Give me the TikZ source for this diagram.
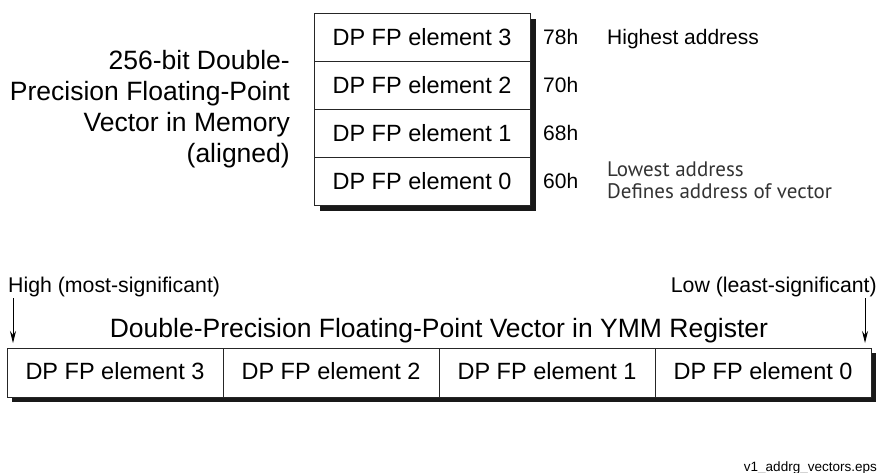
\documentclass[tikz,border=0pt]{standalone}
\usepackage{fontspec}
\setmainfont{Liberation Sans}
\newfontfamily\humfont{PT Sans}
\usetikzlibrary{arrows.meta}
\definecolor{notegray}{HTML}{333333}
\tikzset{
  cellbox/.style={draw=black!85, line width=0.8pt, fill=white, inner sep=0pt,
    minimum width=216pt, font=\fontsize{23.5}{28}\selectfont},
  memcell/.style={cellbox, minimum height=48pt, text height=17pt, text depth=1pt},
  regcell/.style={cellbox, minimum height=49pt, text height=17pt, text depth=4pt},
  addrlbl/.style={anchor=base west, inner sep=0pt, font=\fontsize{21}{25}\selectfont},
  notelbl/.style={anchor=base west, inner sep=0pt, text=notegray, font=\humfont\fontsize{21}{25}\selectfont},
  sidelbl/.style={inner sep=0pt, font=\fontsize{21.3}{25}\selectfont},
  titlelbl/.style={inner sep=0pt, font=\fontsize{26.5}{31}\selectfont},
  endarrow/.style={line width=0.9pt, -{Stealth[length=12pt,width=6pt]}},
  shadowfill/.style={fill=black!90}
}
\begin{document}
\begin{tikzpicture}[x=1pt,y=-1pt]
\useasboundingbox (0,0) rectangle (880,472);
% memory vector
\fill[shadowfill] (320,19) rectangle (536,211);
\node[memcell] (m3) at (422,37) {DP FP element 3};
\node[memcell] (m2) at (422,85) {DP FP element 2};
\node[memcell] (m1) at (422,133) {DP FP element 1};
\node[memcell] (m0) at (422,181) {DP FP element 0};
\node[addrlbl] (a3) at (543,44) {78h};
\node[addrlbl] (a2) at (543,92) {70h};
\node[addrlbl] (a1) at (543,140) {68h};
\node[addrlbl] (a0) at (543,188) {60h};
\node[addrlbl] (hi) at (607,44) {Highest address};
\node[notelbl] (lo1) at (607,176) {Lowest address};
\node[notelbl] (lo2) at (607,198) {Defines address of vector};
\node[titlelbl, anchor=base east, align=right] (memtitle) at (290,162)
  {256-bit Double-\\Precision Floating-Point\\Vector in Memory\\(aligned)};
% register
\fill[shadowfill] (12,353) rectangle (876,402);
\node[regcell] (r3) at (115,372.5) {DP FP element 3};
\node[regcell] (r2) at (331,372.5) {DP FP element 2};
\node[regcell] (r1) at (547,372.5) {DP FP element 1};
\node[regcell] (r0) at (763,372.5) {DP FP element 0};
\node[titlelbl, anchor=base] (regtitle) at (439,337)
  {Double-Precision Floating-Point Vector in YMM Register};
\node[sidelbl, anchor=base west] (high) at (8,292) {High (most-significant)};
\node[sidelbl, anchor=base east] (low) at (877,292) {Low (least-significant)};
\coordinate (hs) at (13,298);
\coordinate (he) at (13,343);
\coordinate (ls) at (865,298);
\coordinate (le) at (865,343);
\draw[endarrow] (hs) -- (he);
\draw[endarrow] (ls) -- (le);
\node[inner sep=0pt, anchor=base east, font=\fontsize{13.5}{16}\selectfont] (fname) at (877,471.5) {v1\_addrg\_vectors.eps};
\end{tikzpicture}
\end{document}
